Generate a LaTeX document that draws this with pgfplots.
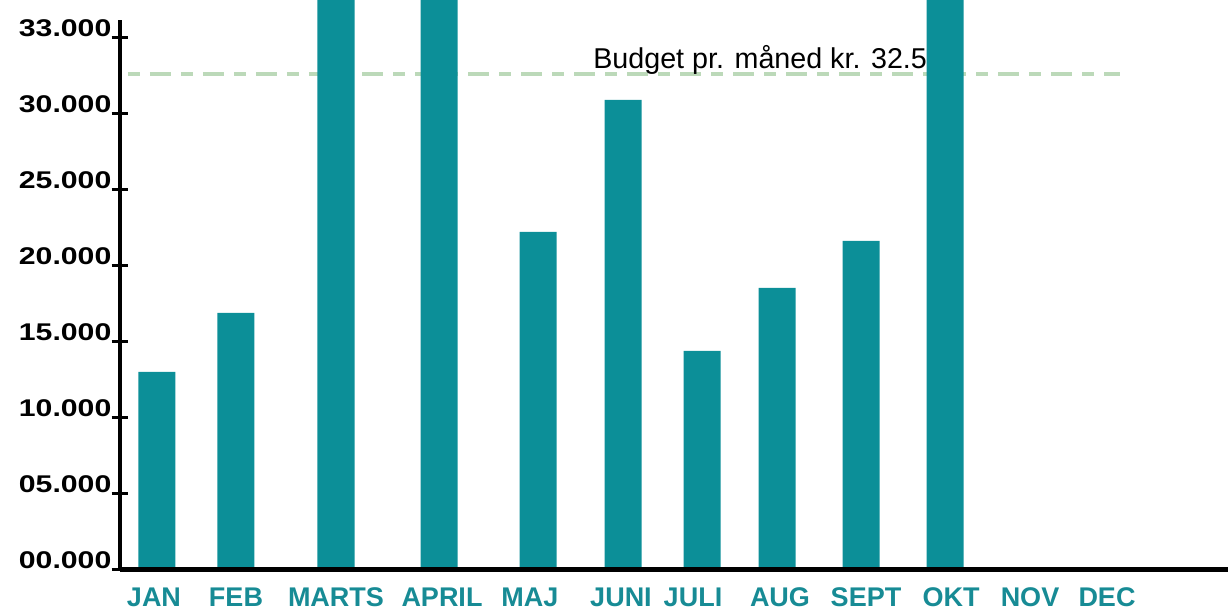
\documentclass[border=0pt]{standalone}
\usepackage{fontspec}
\setmainfont{Liberation Sans}
\newfontfamily\tickfont[FakeStretch=1.25]{Liberation Sans Bold}
\usepackage{pgfplots}
\pgfplotsset{compat=1.18}
\definecolor{barteal}{HTML}{0C8F98}
\definecolor{labteal}{HTML}{178B95}
\definecolor{budget}{HTML}{BCD9B9}
\begin{document}
\begin{tikzpicture}
\begin{axis}[
  scale only axis, width=664.8pt, height=342pt,
  xmin=120, xmax=1228, ymin=0, ymax=37500,
  clip=false,
  axis x line=bottom, axis y line=left,
  axis line style={draw=none},
  xtick={154,236,336,442,530,621,693,780,866,951,1030,1107},
  xticklabels={JAN,FEB,MARTS,APRIL,MAJ,JUNI,JULI,AUG,SEPT,OKT,NOV,DEC},
  x tick style={draw=none},
  xticklabel style={font=\bfseries\fontsize{16.2}{18}\selectfont, text=labteal, anchor=base, inner sep=0pt, yshift=-17pt},
  ytick={0,5000,10000,15000,20000,25000,30000,35000},
  yticklabels={00.000,05.000,10.000,15.000,20.000,25.000,30.000,33.000},
  y tick style={black, line width=1.8pt},
  tick align=center, major tick length=10pt,
  yticklabel style={font=\tickfont\fontsize{14.5}{16}\selectfont, anchor=base east, inner sep=0pt, yshift=1pt},
]
\coordinate (O) at (rel axis cs:0,0);
\addplot[budget, line width=2.4pt, dash pattern=on 7.2pt off 6pt on 12.6pt off 6pt] coordinates {(128,32600) (1120,32600)};
\node[anchor=base west, font=\fontsize{17.2}{20}\selectfont, inner sep=0pt] at (axis cs:593,33000) {Budget pr. måned kr. 32.500};
\addplot[ybar, bar width=22.2pt, fill=barteal, draw=none] coordinates {
  (157,13026) (236,16908) (336,37500) (439,37500) (538,22237)
  (623,30921) (702,14408) (777,18553) (861,21645) (945,37500)};
\draw[line width=3pt] (axis cs:120,0) -- (axis cs:1228,0);
\draw[line width=2.4pt] (axis cs:120,0) -- (axis cs:120,36200);
\end{axis}
\pgfresetboundingbox
\path[use as bounding box] ([shift={(-72pt,-24.6pt)}]O) rectangle ([shift={(664.8pt,342pt)}]O);
\end{tikzpicture}
\end{document}
